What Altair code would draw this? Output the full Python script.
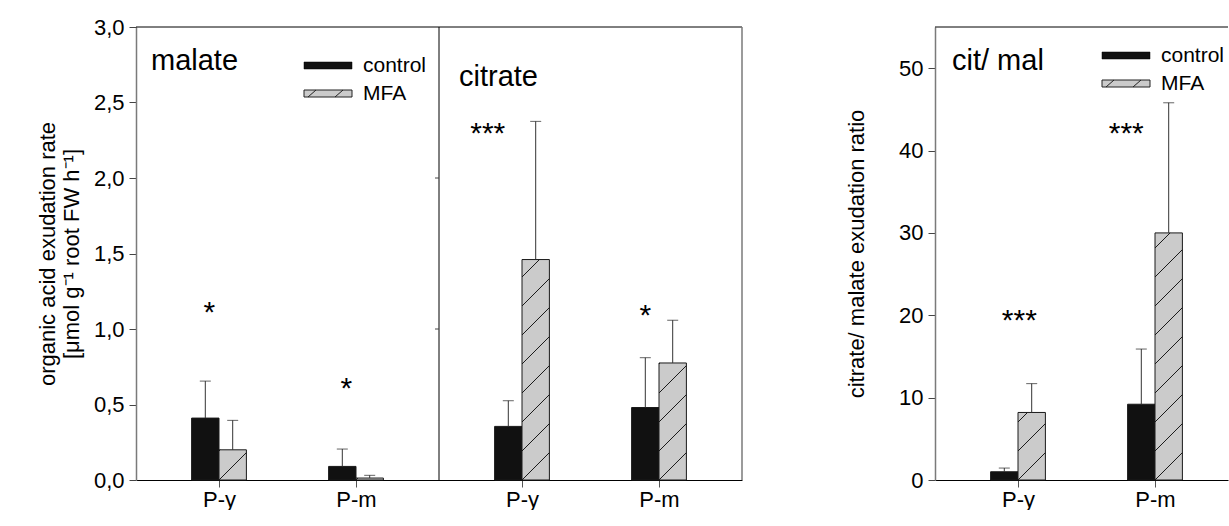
import math
import altair as alt
import pandas as pd

# ---- data -------------------------------------------------------------
CATEGORIES = ["P-y", "P-m"]
TREATMENTS = ["control", "MFA"]

malate_control = [0.41, 0.09]
malate_control_err = [0.245, 0.115]
malate_mfa = [0.20, 0.013]
malate_mfa_err = [0.195, 0.018]

citrate_control = [0.355, 0.48]
citrate_control_err = [0.17, 0.33]
citrate_mfa = [1.46, 0.775]
citrate_mfa_err = [0.915, 0.283]

ratio_control = [1.0, 9.2]
ratio_control_err = [0.45, 6.7]
ratio_mfa = [8.2, 30.0]
ratio_mfa_err = [3.5, 15.8]

# significance marks: text, height (data units), shift from group centre
malate_sig = ["*", "*"]
malate_sig_y = [1.15, 0.65]
malate_sig_dx = [-0.07, -0.07]
citrate_sig = ["***", "*"]
citrate_sig_y = [2.34, 1.13]
citrate_sig_dx = [-0.25, -0.10]
ratio_sig = ["***", "***"]
ratio_sig_y = [20.1, 42.8]
ratio_sig_dx = [0.01, -0.21]

# ---- layout / style ---------------------------------------------------
FONT = "Liberation Sans"
SUB_W = 303            # width of one acid sub-panel
RATIO_W = 293
PANEL_H = 453
STEP_PX = 137          # distance between the two groups
FIRST_PX = 83          # first group centre from the sub-panel's left edge
BAR_W = 0.2            # bar width in group-step units
HATCH_PX = 29          # vertical spacing of the hatch lines
GAP = 102              # space between the acid panel and the ratio panel
TICK_FS = 22
TITLE_FS = 22
CONTROL_FILL = "#111111"
MFA_FILL = "#cbcbcb"
AXIS_GRAY = "#7a7a7a"

ONE = pd.DataFrame({"k": [0]})


def bar_table(blocks):
    rows = []
    for control, control_err, mfa, mfa_err, shift in blocks:
        for i, cat in enumerate(CATEGORIES):
            g = shift + i
            for trt, v, e, x0 in (("control", control[i], control_err[i], g - BAR_W),
                                  ("MFA", mfa[i], mfa_err[i], g)):
                rows.append(dict(cat=cat, treatment=trt, value=v, err=e, top=v + e,
                                 base=0.0, x0=x0, x1=x0 + BAR_W, xc=x0 + BAR_W / 2))
    return pd.DataFrame(rows)


def sig_table(blocks):
    rows = []
    for sig, sy, sdx, shift in blocks:
        for i in range(len(sig)):
            rows.append(dict(sig=sig[i], sx=shift + i + sdx[i], sy=sy[i]))
    return pd.DataFrame(rows)


def hatch_table(bars, ppy):
    """Diagonal hatch segments clipped to each MFA bar (45 deg on screen)."""
    segs = []
    wpx = BAR_W * STEP_PX
    for _, r in bars[bars.treatment == "MFA"].iterrows():
        hpx = r.value * ppy
        for k in range(-math.ceil(wpx / HATCH_PX), math.ceil(hpx / HATCH_PX) + 1):
            c = k * HATCH_PX
            u0 = max(0.0, -c)
            u1 = min(wpx, hpx - c)
            if u1 - u0 > 0.6:
                segs.append(dict(hx0=r.x0 + u0 / STEP_PX, hy0=(u0 + c) / ppy,
                                 hx1=r.x0 + u1 / STEP_PX, hy1=(u1 + c) / ppy))
    return pd.DataFrame(segs, columns=["hx0", "hy0", "hx1", "hy1"])


def vrule(x, color, width):
    return alt.Chart(ONE).mark_rule(color=color, strokeWidth=width).encode(
        x=alt.value(x), y=alt.value(0), y2=alt.value(PANEL_H))


def text_at(x, y, s, size, align="left"):
    return alt.Chart(ONE).mark_text(font=FONT, fontSize=size, color="black",
                                    align=align, baseline="middle").encode(
        x=alt.value(x), y=alt.value(y), text=alt.value(s))


def legend_layers(lx, ly):
    """Legend: solid swatch for control, hatched swatch for MFA."""
    sw, sh, row = 48, 7, 28
    ctl = alt.Chart(ONE).mark_rect(fill=CONTROL_FILL, stroke="black", strokeWidth=0.5).encode(
        x=alt.value(lx), x2=alt.value(lx + sw), y=alt.value(ly), y2=alt.value(ly + sh))
    mfa = alt.Chart(ONE).mark_rect(fill=MFA_FILL, stroke="#222", strokeWidth=1).encode(
        x=alt.value(lx), x2=alt.value(lx + sw), y=alt.value(ly + row), y2=alt.value(ly + row + sh))
    h1 = alt.Chart(ONE).mark_rule(color="#222", strokeWidth=1).encode(
        x=alt.value(lx + 4), x2=alt.value(lx + 12),
        y=alt.value(ly + row + sh), y2=alt.value(ly + row))
    h2 = alt.Chart(ONE).mark_rule(color="#222", strokeWidth=1).encode(
        x=alt.value(lx + 31), x2=alt.value(lx + 39),
        y=alt.value(ly + row + sh), y2=alt.value(ly + row))
    t1 = text_at(lx + 59, ly + 3.5, TREATMENTS[0], 21)
    t2 = text_at(lx + 59, ly + row + 3.5, TREATMENTS[1], 21)
    return [ctl, mfa, h1, h2, t1, t2]


def panel(bar_blocks, sig_blocks, ymax, width, tick_values, yaxis, labels,
          legends, rules, side_ticks=None):
    x_lo = -FIRST_PX / STEP_PX
    xs = alt.Scale(domain=[x_lo, x_lo + width / STEP_PX], nice=False, zero=False)
    ys = alt.Scale(domain=[0, ymax], nice=False, zero=True)
    ppy = PANEL_H / ymax

    bars = bar_table(bar_blocks)
    hatch = hatch_table(bars, ppy)
    sigs = sig_table(sig_blocks)

    xaxis = alt.Axis(values=tick_values,
                     labelExpr="%s[round(datum.value) %% 2]" % str(CATEGORIES),
                     title=None, grid=False, domainColor="black", domainWidth=1,
                     tickColor="#555", tickSize=7, tickWidth=1,
                     labelFontSize=TICK_FS, labelPadding=2, labelColor="black")

    # every layer carries the same axis definitions so the shared axes merge cleanly
    def X(f):
        return alt.X(f, scale=xs, axis=xaxis)

    def Y(f):
        return alt.Y(f, scale=ys, axis=yaxis)

    bar_layer = alt.Chart(bars).mark_bar(stroke="#1a1a1a", strokeWidth=1).encode(
        x=X("x0:Q"), x2="x1:Q", y=Y("value:Q"), y2="base:Q",
        fill=alt.Fill("treatment:N", scale=alt.Scale(domain=TREATMENTS,
                                                     range=[CONTROL_FILL, MFA_FILL]),
                      legend=None),
    )
    hatch_layer = alt.Chart(hatch).mark_rule(color="#1a1a1a", strokeWidth=1).encode(
        x=X("hx0:Q"), x2="hx1:Q", y=Y("hy0:Q"), y2="hy1:Q")
    whisker = alt.Chart(bars).mark_rule(color="#333", strokeWidth=1).encode(
        x=X("xc:Q"), y=Y("value:Q"), y2="top:Q")
    cap = alt.Chart(bars).mark_tick(orient="horizontal", size=11, thickness=1,
                                    color="#222").encode(x=X("xc:Q"), y=Y("top:Q"))
    stars = alt.Chart(sigs).mark_text(font=FONT, fontSize=30, color="black",
                                      baseline="middle", dy=7).encode(
        x=X("sx:Q"), y=Y("sy:Q"), text="sig:N")
    top = alt.Chart(ONE).mark_rule(color="black", strokeWidth=1).encode(
        x=alt.value(0), x2=alt.value(width), y=alt.value(0))

    layers = [bar_layer, hatch_layer, whisker, cap, stars, top]
    layers += [vrule(*r) for r in rules]
    if side_ticks is not None:
        sx, svals = side_ticks
        layers.append(alt.Chart(pd.DataFrame({"t": svals})).mark_rule(
            color="#444", strokeWidth=1).encode(
            x=alt.value(sx - 4), x2=alt.value(sx), y=Y("t:Q")))
    layers += [text_at(x, y, s, 29) for s, x, y in labels]
    for lx, ly in legends:
        layers += legend_layers(lx, ly)
    return alt.layer(*layers).properties(width=width, height=PANEL_H)


comma = "replace(format(datum.value, '.1f'), '.', ',')"

acid_axis = alt.Axis(values=[0, 0.5, 1.0, 1.5, 2.0, 2.5, 3.0], labelExpr=comma,
                     title=["organic acid exudation rate",
                            "[\u03bcmol g\u207b\u00b9 root FW h\u207b\u00b9]"],
                     grid=False, domainColor=AXIS_GRAY, domainWidth=1.5,
                     tickColor="#444", tickSize=7, labelPadding=5, labelFontSize=TICK_FS,
                     titleFontSize=TITLE_FS, titleFontWeight="normal", titlePadding=10,
                     titleLineHeight=24)
ratio_axis = alt.Axis(values=[0, 10, 20, 30, 40, 50], format="d",
                      title="citrate/ malate exudation ratio",
                      grid=False, domainColor=AXIS_GRAY, domainWidth=1.5,
                      tickColor="#444", tickSize=7, labelPadding=5, labelFontSize=TICK_FS,
                      titleFontSize=TITLE_FS, titleFontWeight="normal", titlePadding=30)

SHIFT = SUB_W / STEP_PX   # citrate groups sit one sub-panel to the right
acid = panel(
    [(malate_control, malate_control_err, malate_mfa, malate_mfa_err, 0.0),
     (citrate_control, citrate_control_err, citrate_mfa, citrate_mfa_err, SHIFT)],
    [(malate_sig, malate_sig_y, malate_sig_dx, 0.0),
     (citrate_sig, citrate_sig_y, citrate_sig_dx, SHIFT)],
    3.0, 2 * SUB_W, [0, 1, SHIFT, SHIFT + 1], acid_axis,
    [("malate", 15, 34), ("citrate", SUB_W + 20, 50)],
    [(168, 35)],
    [(SUB_W, "black", 1), (2 * SUB_W, AXIS_GRAY, 1.5)],
    side_ticks=(SUB_W, [1.0, 2.0]),
)
ratio = panel(
    [(ratio_control, ratio_control_err, ratio_mfa, ratio_mfa_err, 0.0)],
    [(ratio_sig, ratio_sig_y, ratio_sig_dx, 0.0)],
    55, RATIO_W, [0, 1], ratio_axis,
    [("cit/ mal", 17, 34)],
    [(167, 25)],
    [],
)

chart = alt.hconcat(acid, ratio, spacing=GAP).properties(
    padding={"left": 36, "top": 16, "right": 0, "bottom": 0}
).configure_view(stroke=None).configure_axis(
    labelFont=FONT, titleFont=FONT, labelColor="black", titleColor="black"
)

chart.save("out.html", embed_options={"renderer": "svg", "actions": False})
